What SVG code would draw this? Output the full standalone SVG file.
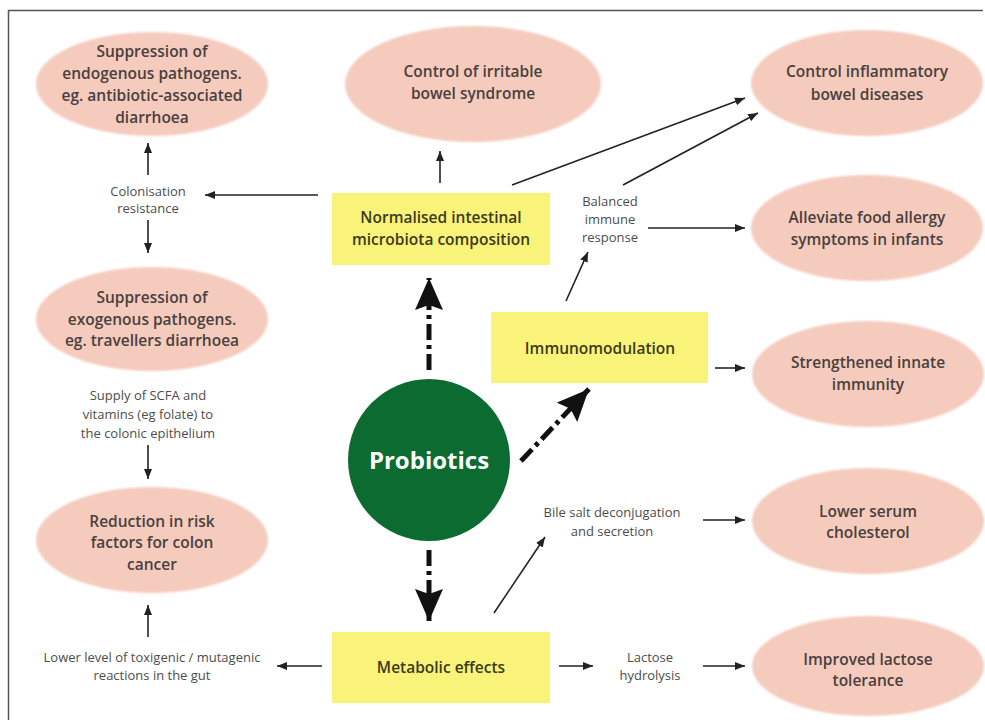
<svg xmlns="http://www.w3.org/2000/svg" width="985" height="720" viewBox="0 0 985 720">
<defs>
<marker id="ah" viewBox="0 0 10 10" refX="10" refY="5" markerWidth="10" markerHeight="10" markerUnits="userSpaceOnUse" orient="auto">
<path d="M0,1 L10,5 L0,9 Z" fill="#222"/>
</marker>
<marker id="big" viewBox="0 0 32 28" refX="32" refY="14" markerWidth="32" markerHeight="28" markerUnits="userSpaceOnUse" orient="auto">
<path d="M0,0 L32,14 L0,28 L5,14 Z" fill="#111"/>
</marker>
<filter id="soft" x="-5%" y="-5%" width="110%" height="110%"><feGaussianBlur stdDeviation="1"/></filter>
</defs>
<style>
.ell{fill:#f5cbbd}
.box{fill:#f9f479}
.et{font-family:"Open Sans","Noto Sans",sans-serif;font-size:15.5px;font-weight:600;fill:#4a403d;text-anchor:middle}
.bt{font-family:"Open Sans","Noto Sans",sans-serif;font-size:15.5px;font-weight:600;fill:#3d3a1e;text-anchor:middle}
.st{font-family:"Open Sans","Noto Sans",sans-serif;font-size:13px;fill:#4d4d4d;text-anchor:middle}
.ln{stroke:#222;stroke-width:1.6;fill:none;marker-end:url(#ah)}
.dd{stroke:#111;stroke-width:5;fill:none;stroke-dasharray:16 5 4 5;marker-end:url(#big)}
</style>
<rect width="985" height="720" fill="#fff"/>
<path d="M8.5,720 L8.5,10.5 L983,10.5" fill="none" stroke="#555" stroke-width="1.5"/>

<g id="n-endogenous">
<ellipse class="ell" cx="152" cy="84" rx="116" ry="52" filter="url(#soft)"/>
<text class="et" x="152" y="57">Suppression of</text>
<text class="et" x="152" y="79">endogenous pathogens.</text>
<text class="et" x="152" y="101">eg. antibiotic-associated</text>
<text class="et" x="152" y="123">diarrhoea</text>
</g>
<g id="n-ibs">
<ellipse class="ell" cx="473" cy="84" rx="128" ry="58" filter="url(#soft)"/>
<text class="et" x="473" y="77">Control of irritable</text>
<text class="et" x="473" y="99">bowel syndrome</text>
</g>
<g id="n-ibd">
<ellipse class="ell" cx="867" cy="83" rx="116" ry="53" filter="url(#soft)"/>
<text class="et" x="867" y="77">Control inflammatory</text>
<text class="et" x="867" y="100">bowel diseases</text>
</g>
<g id="n-allergy">
<ellipse class="ell" cx="867" cy="228" rx="116" ry="53" filter="url(#soft)"/>
<text class="et" x="867" y="223">Alleviate food allergy</text>
<text class="et" x="867" y="245">symptoms in infants</text>
</g>
<g id="n-innate">
<ellipse class="ell" cx="868" cy="374" rx="116" ry="53" filter="url(#soft)"/>
<text class="et" x="868" y="368">Strengthened innate</text>
<text class="et" x="868" y="390">immunity</text>
</g>
<g id="n-cholesterol">
<ellipse class="ell" cx="868" cy="521" rx="116" ry="53" filter="url(#soft)"/>
<text class="et" x="868" y="517">Lower serum</text>
<text class="et" x="868" y="538">cholesterol</text>
</g>
<g id="n-lactose">
<ellipse class="ell" cx="868" cy="666" rx="116" ry="50" filter="url(#soft)"/>
<text class="et" x="868" y="665">Improved lactose</text>
<text class="et" x="868" y="686">tolerance</text>
</g>
<g id="n-exogenous">
<ellipse class="ell" cx="152" cy="319" rx="116" ry="52" filter="url(#soft)"/>
<text class="et" x="152" y="303">Suppression of</text>
<text class="et" x="152" y="325">exogenous pathogens.</text>
<text class="et" x="152" y="346">eg. travellers diarrhoea</text>
</g>
<g id="n-colon">
<ellipse class="ell" cx="152" cy="540" rx="116" ry="53" filter="url(#soft)"/>
<text class="et" x="152" y="527">Reduction in risk</text>
<text class="et" x="152" y="548">factors for colon</text>
<text class="et" x="152" y="570">cancer</text>
</g>

<g id="n-normalised">
<rect class="box" x="332" y="193" width="218" height="72"/>
<text class="bt" x="441" y="223">Normalised intestinal</text>
<text class="bt" x="441" y="245">microbiota composition</text>
</g>
<g id="n-immuno">
<rect class="box" x="491" y="312" width="217" height="71"/>
<text class="bt" x="600" y="354">Immunomodulation</text>
</g>
<g id="n-metabolic">
<rect class="box" x="332" y="632" width="218" height="71"/>
<text class="bt" x="441" y="673">Metabolic effects</text>
</g>
<g id="n-probiotics">
<circle cx="429" cy="460" r="81" fill="#0b6b30"/>
<text x="429" y="469" text-anchor="middle" font-family="'Open Sans','Noto Sans',sans-serif" font-size="24" font-weight="700" fill="#fff">Probiotics</text>
</g>

<g id="labels">
<text class="st" x="148" y="196">Colonisation</text>
<text class="st" x="148" y="213">resistance</text>
<text class="st" x="610" y="206">Balanced</text>
<text class="st" x="610" y="224">immune</text>
<text class="st" x="610" y="242">response</text>
<text class="st" x="148" y="400">Supply of SCFA and</text>
<text class="st" x="148" y="419">vitamins (eg folate) to</text>
<text class="st" x="148" y="438">the colonic epithelium</text>
<text class="st" x="152" y="662">Lower level of toxigenic / mutagenic</text>
<text class="st" x="152" y="680">reactions in the gut</text>
<text class="st" x="612" y="517">Bile salt deconjugation</text>
<text class="st" x="612" y="536">and secretion</text>
<text class="st" x="650" y="662">Lactose</text>
<text class="st" x="650" y="680">hydrolysis</text>
</g>

<g id="connectors">
<path class="dd" d="M429,370 L429,278"/>
<path class="dd" d="M521,461 L589,389"/>
<path class="dd" d="M429,550 L429,621"/>
<path class="ln" d="M440,183 L440,151"/>
<path class="ln" d="M318,195 L205,195"/>
<path class="ln" d="M148,175 L148,143"/>
<path class="ln" d="M148,220 L148,253"/>
<path class="ln" d="M148,445 L148,479"/>
<path class="ln" d="M148,637 L148,605"/>
<path class="ln" d="M322,666 L277,666"/>
<path class="ln" d="M512,185 L745,98"/>
<path class="ln" d="M623,185 L758,113"/>
<path class="ln" d="M648,228 L745,228"/>
<path class="ln" d="M566,301 L588,252"/>
<path class="ln" d="M715,368 L745,368"/>
<path class="ln" d="M494,613 L545,537"/>
<path class="ln" d="M703,520 L745,520"/>
<path class="ln" d="M559,666 L593,666"/>
<path class="ln" d="M703,666 L745,666"/>
</g>
</svg>
